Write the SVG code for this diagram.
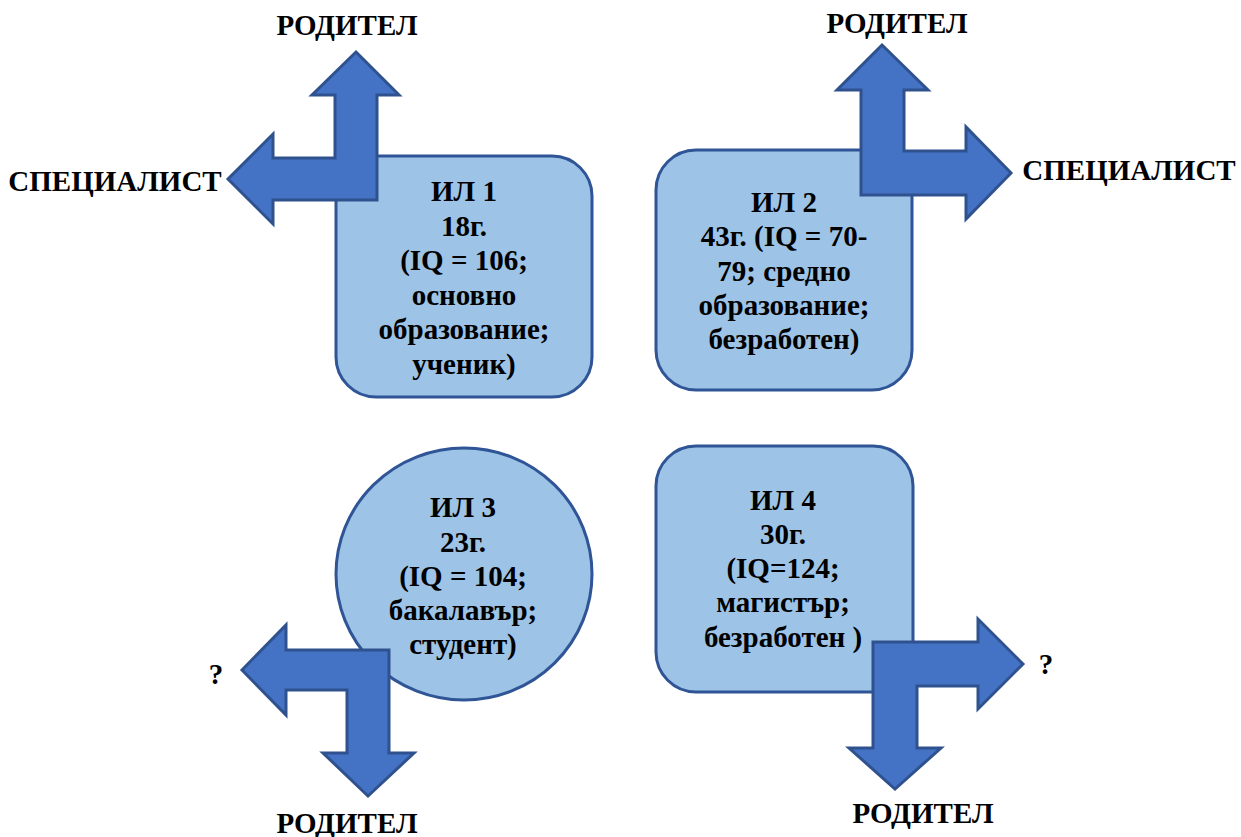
<svg xmlns="http://www.w3.org/2000/svg" width="1241" height="837" viewBox="0 0 1241 837">
<style>
.box{fill:#9DC3E6;stroke:#2F5597;stroke-width:3}
.arr{fill:#4472C4;stroke:#2F528F;stroke-width:3;stroke-linejoin:miter}
.t{font-family:'Liberation Serif','Times New Roman',Times,'DejaVu Serif',serif;font-weight:700;font-size:29px;fill:#000;text-anchor:middle}
.lbl{font-family:'Liberation Serif','Times New Roman',Times,'DejaVu Serif',serif;font-weight:700;font-size:29px;fill:#000;text-anchor:middle}
</style>
<rect width="1241" height="837" fill="#fff"/>
<g id="node1">
<rect class="box" x="336" y="156" width="256" height="241" rx="40" ry="40"/>
<text class="t"><tspan x="464" y="201">ИЛ 1</tspan><tspan x="464" y="235.5">18г.</tspan><tspan x="464" y="270">(IQ = 106;</tspan><tspan x="464" y="304.5">основно</tspan><tspan x="464" y="339">образование;</tspan><tspan x="464" y="373.5">ученик)</tspan></text>
</g>
<g id="node2">
<rect class="box" x="656" y="150" width="256" height="240" rx="40" ry="40"/>
<text class="t"><tspan x="784" y="212">ИЛ 2</tspan><tspan x="784" y="246">43г. (IQ = 70-</tspan><tspan x="784" y="280.5">79; средно</tspan><tspan x="784" y="315">образование;</tspan><tspan x="784" y="349">безработен)</tspan></text>
</g>
<g id="node3">
<ellipse class="box" cx="464" cy="574" rx="128" ry="126"/>
<text class="t"><tspan x="463" y="517">ИЛ 3</tspan><tspan x="463" y="551.5">23г.</tspan><tspan x="463" y="586">(IQ = 104;</tspan><tspan x="463" y="620">бакалавър;</tspan><tspan x="463" y="654">студент)</tspan></text>
</g>
<g id="node4">
<rect class="box" x="656" y="446" width="257" height="246" rx="40" ry="40"/>
<text class="t"><tspan x="783" y="510">ИЛ 4</tspan><tspan x="783" y="543.5">30г.</tspan><tspan x="783" y="578">(IQ=124;</tspan><tspan x="783" y="612">магистър;</tspan><tspan x="783" y="646.5">безработен )</tspan></text>
</g>
<g id="connectors">
<path class="arr" d="M356,52 L399,95 L377,95 L377,200 L273,200 L273,224 L228,179 L273,134 L273,158 L335,158 L335,95 L312,95 Z"/>
<path class="arr" d="M882,45 L928,90 L904,90 L904,151 L966,151 L966,127 L1011,173 L966,219 L966,195 L861,195 L861,90 L837,90 Z"/>
<path class="arr" d="M242,670 L286,625 L286,650 L389,650 L389,753 L414,753 L368,796 L323,753 L347,753 L347,690 L286,690 L286,715 Z"/>
<path class="arr" d="M1023,664 L978,619 L978,642 L873,642 L873,748 L849,748 L895,789 L941,748 L917,748 L917,686 L978,686 L978,709 Z"/>
</g>
<g id="labels">
<text class="lbl" x="347" y="35">РОДИТЕЛ</text>
<text class="lbl" x="115" y="191">СПЕЦИАЛИСТ</text>
<text class="lbl" x="897" y="33">РОДИТЕЛ</text>
<text class="lbl" x="1129" y="180">СПЕЦИАЛИСТ</text>
<text class="lbl" x="216" y="684">?</text>
<text class="lbl" x="347" y="833">РОДИТЕЛ</text>
<text class="lbl" x="1046" y="674">?</text>
<text class="lbl" x="923" y="823">РОДИТЕЛ</text>
</g>
</svg>
